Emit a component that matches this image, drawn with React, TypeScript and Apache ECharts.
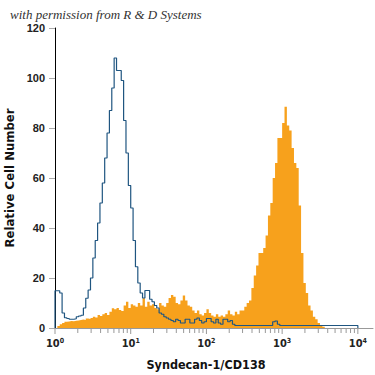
import React, { useEffect, useRef } from "react";
import * as echarts from "echarts";

// Histogram bins: 128 channels spanning 4 decades (log10 0 .. 4)
const decades = 4;
const binCount = 128;

const isotypeCounts = [
  14.9, 14.9, 14, 6, 4.1, 3.8, 3.5, 3.5, 3.7, 4.5,
  4.8, 5.1, 8, 11.9, 15.2, 20, 28, 35, 42, 50,
  58, 68, 78, 87, 96, 108, 103, 103, 99, 83,
  70, 57, 48, 35, 24.5, 18, 14, 12, 15, 15,
  11.5, 10.5, 9, 8, 6, 5.5, 4.5, 4, 3.5, 3,
  2.5, 3.5, 3, 2, 2, 3.5, 3.5, 2, 2, 3.5,
  4, 3, 2, 2.5, 3.8, 3.8, 2.5, 2, 3.5, 2,
  1.5, 3.5, 3.5, 2.5, 3, 1.5, 1, 1, 1, 1,
  1, 1, 1, 1, 1, 1, 1, 1, 1, 1,
  1, 1, 2.5, 2.8, 1.5, 1, 1, 1, 1, 1,
  1, 1, 1, 1, 1, 1, 1, 1, 1, 1,
  1, 1, 1, 1, 1, 1, 1, 1, 1, 1,
  1, 1, 1, 1, 1, 1, 1, 1,
];

const cd138Counts = [
  0, 0.8, 1.5, 2, 2.5, 2.6, 2.8, 2.7, 2.9, 3,
  3.2, 3.4, 3.2, 3.8, 3.6, 4, 4.5, 4.2, 5.2, 4.8,
  5.5, 6, 5.2, 6.5, 7.9, 7.5, 8, 7.2, 6.8, 9,
  10.5, 8, 9.5, 9, 8.5, 10, 9, 11.9, 8.5, 10.5,
  9, 9.5, 8, 7.5, 10, 9, 8.5, 10, 12, 13.2,
  12.5, 10, 9.5, 11, 13, 11, 9, 8.5, 7, 6,
  7, 5.5, 5, 6, 7.5, 6, 5, 4.5, 5.5, 4.5,
  5, 4.5, 5.5, 7, 5.5, 5, 6.5, 5.5, 7, 7,
  8.5, 10, 11, 16, 21, 25, 30, 30, 32, 37,
  45, 50, 60, 66, 76, 76, 82, 88.5, 81, 79,
  72, 66, 64, 49, 30, 18, 14, 9, 7, 4.5,
  3.5, 2, 1.2, 0.5, 0, 0, 0, 0, 0, 0,
  0, 0, 0, 0, 0, 0, 0, 0,
];

const xExponents = [0, 1, 2, 3, 4];
const minorMultipliers = [2, 3, 4, 5, 6, 7, 8, 9];

const binWidth = decades / binCount;
const SANS = "'Liberation Sans', Arial, Helvetica, sans-serif";
const NARROW = "'DejaVu Sans Condensed', 'Liberation Sans', Arial, sans-serif";

function stepPoints(counts: number[]) {
  const pts: number[][] = [[0, 0]];
  counts.forEach((c, i) => pts.push([i * binWidth, c]));
  pts.push([counts.length * binWidth, counts[counts.length - 1]]);
  pts.push([counts.length * binWidth, 0]);
  return pts;
}

const tickData: number[][] = [];
xExponents.forEach((e) => {
  tickData.push([e, 1]);
  if (e < decades) minorMultipliers.forEach((m) => tickData.push([e + Math.log10(m), 0]));
});

export default function App() {
  const ref = useRef<HTMLDivElement>(null);
  useEffect(() => {
    const chart = echarts.init(ref.current!, null, { renderer: "svg" });
    chart.setOption({
      animation: false,
      backgroundColor: "#ffffff",
      grid: { left: 55, right: 2, top: 28, bottom: 47, outerBoundsMode: "none" },
      graphic: [
        {
          type: "text",
          left: 10,
          top: 8,
          style: {
            text: "with permission from R & D Systems",
            font: "italic 13px 'Liberation Serif', serif",
            fill: "#333",
          },
        },
      ],
      xAxis: {
        type: "value",
        min: 0,
        max: 4.2,
        interval: 1,
        splitLine: { show: false },
        axisTick: { show: false },
        axisLine: { lineStyle: { color: "#999", width: 1 } },
        axisLabel: {
          margin: 9,
          showMaxLabel: false,
          formatter: (v: number) =>
            Number.isInteger(v) && v <= decades ? `{b|10}{s|${v}}` : "",
          rich: {
            b: { fontSize: 11, fontWeight: "bold", fontFamily: NARROW, color: "#222", verticalAlign: "bottom" },
            s: { fontSize: 7, fontWeight: "bold", fontFamily: NARROW, color: "#222", verticalAlign: "bottom", padding: [0, 0, 5, 0] },
          },
        },
        name: "Syndecan-1/CD138",
        nameLocation: "middle",
        nameGap: 30,
        nameTextStyle: {
          fontSize: 12.5,
          fontWeight: "bold",
          fontFamily: NARROW,
          color: "#111",
          padding: [0, 16, 0, 0],
        },
      },
      yAxis: {
        type: "value",
        min: 0,
        max: 120,
        interval: 20,
        splitLine: { show: false },
        axisLine: { show: true, lineStyle: { color: "#000", width: 1 } },
        axisTick: { show: true, length: 6, lineStyle: { color: "#aaa" } },
        axisLabel: {
          margin: 10,
          fontSize: 11,
          fontWeight: "bold",
          fontFamily: SANS,
          color: "#222",
        },
        name: "Relative Cell Number",
        nameLocation: "middle",
        nameGap: 34,
        nameTextStyle: {
          fontSize: 13,
          fontWeight: "bold",
          fontFamily: NARROW,
          color: "#111",
        },
      },
      series: [
        {
          type: "line",
          data: stepPoints(cd138Counts),
          step: "end",
          symbol: "none",
          lineStyle: { width: 0 },
          areaStyle: { color: "#f7a11c", opacity: 1 },
          z: 2,
        },
        {
          type: "line",
          data: stepPoints(isotypeCounts),
          step: "end",
          symbol: "none",
          lineStyle: { color: "#1f5580", width: 1.2 },
          z: 3,
        },
        {
          type: "custom",
          data: tickData,
          clip: false,
          z: 4,
          renderItem: (params: any, api: any) => {
            const p = api.coord([api.value(0), 0]);
            const len = api.value(1) ? 6 : 5;
            return {
              type: "line",
              shape: { x1: p[0], y1: p[1], x2: p[0], y2: p[1] + len },
              style: { stroke: "#999", lineWidth: 1 },
            };
          },
        },
      ],
    });
    return () => chart.dispose();
  }, []);
  return <div ref={ref} style={{ width: 375, height: 375, position: "absolute", left: 0, top: 0 }} />;
}
